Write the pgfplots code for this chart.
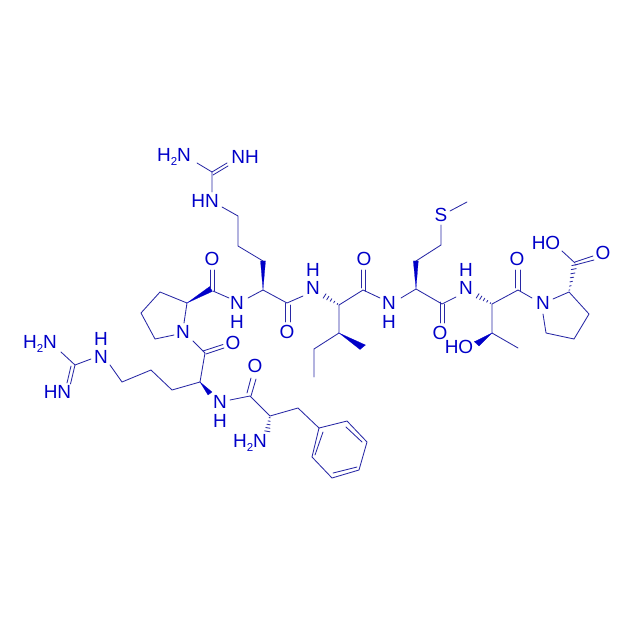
\documentclass[border=0pt]{standalone}
\usepackage{pgfplots}
\pgfplotsset{compat=1.18}
\usepackage{fontspec}
\setmainfont{Liberation Sans}
\definecolor{bondc}{RGB}{40,40,165}
\definecolor{textc}{RGB}{0,0,200}
\newcommand\B[1]{\addplot[bondc,line width=0.85pt,line cap=round,line join=round,no markers] coordinates {#1};}
\newcommand\W[1]{\addplot[fill=textc,draw=textc,line width=0.2pt,no markers] coordinates {#1} --cycle;}
\newcommand\T[3]{\node[text=textc,inner sep=0pt,font=\fontsize{19}{19}\selectfont] at (axis cs:#1,#2) {#3};}
\newcommand\su{\raisebox{-3.5pt}{\fontsize{11.5}{11.5}\selectfont 2}}
\begin{document}
\begin{tikzpicture}
\path[use as bounding box] (0,0) rectangle (639pt,639pt);
\begin{axis}[at={(0,0)},anchor=south west,scale only axis,width=639pt,height=639pt,xmin=0,xmax=639,ymin=0,ymax=639,y dir=reverse,hide axis,clip=false]
% Arg 1 guanidine and chain
\B{(61,352)(75,365)(91,359)}
\B{(75,365)(70.5,384)}
\B{(71,366)(67,383)}
\B{(110,365)(122,382)(151,370)(172,390)(200,382)}
\W{(200,382)(208,395)(212,392)}
\B{(200,382)(205,353)(193,341)}
\B{(203,351)(223,344.5)}
\B{(206,354)(224,348)}
% Pro 1
\B{(174,335)(155,339)(141,313)(160,292)(187,303)(184,323)}
\W{(187,303)(209.6,286.6)(212.4,291.4)}
\B{(210,288)(210,270)}
\B{(214.5,291)(214.5,270)}
\B{(213,291)(229,298)}
% Arg 2
\B{(248,298)(263,290)(287,303)(303,296)}
\W{(263,290)(260.5,261)(265.5,261)}
\B{(263,261)(238,246)(238,216)(222,207)}
\B{(212,192)(212,172)(197,163)}
\B{(212,172)(227,163)}
\B{(213,175)(228,166)}
\B{(285,303)(285,322)}
\B{(290,305)(290,322)}
% hash Arg N - Ile CA
\B{(337.1,304.5)(337.7,303.5)}
\B{(333.6,302.9)(334.8,301.1)}
\B{(330.15,301.35)(331.85,298.65)}
\B{(326.7,299.8)(328.9,296.2)}
\B{(323.2,298.2)(326,293.8)}
% Ile
\B{(339,305)(339,333)(314,349)(314,377)}
\W{(339,333)(360,349.5)(365.5,345)}
\B{(339,305)(363,290)(380,298)}
\B{(361,288)(361,270)}
\B{(365.7,291)(365.7,270)}
% Met
\B{(401,298)(416,289)(442,304)(456,297)}
\W{(416,289)(413.3,261)(418.3,261)}
\B{(416,261)(441,245)(441,225)}
\B{(450,211)(467,202)}
\B{(440,302)(440,323)}
\B{(444.3,304)(444.3,323)}
% hash Met N - Thr CA
\B{(490.1,303.6)(490.7,302.6)}
\B{(486.6,302.2)(487.8,300.4)}
\B{(483.15,300.85)(484.85,298.15)}
\B{(479.7,299.5)(481.9,295.9)}
\B{(476.2,298.1)(479,293.7)}
% Thr
\B{(492,304)(492,333)(518,348)}
\W{(492,333)(474.3,341.7)(479,346)}
\B{(492,304)(518,290)(532,298)}
\B{(515,288)(515,270)}
\B{(520,291)(520,270)}
% Pro 2
\B{(553,299)(569,292)(589,314)(574,339)(546,333)(543,314)}
% hash to COOH
\B{(568.9,290.1)(569.9,289.9)}
\B{(569.4,286.1)(571.2,285.7)}
\B{(569.9,281.9)(572.5,281.3)}
\B{(570.3,277.8)(573.7,277.2)}
\B{(570.7,273.8)(574.9,273)}
\B{(571.2,269.6)(576.2,268.6)}
\B{(571.8,265.6)(577.4,264.4)}
\B{(575,263)(562,251)}
\B{(575,262)(593,256)}
\B{(575,265)(594,260)}
% Phe
\B{(230,400)(250,396)(270,416)(298,408)(319,428)(347,421)(367,442)(359,470)(332,478)(312,457)(319,428)}
\B{(247,393)(251,378)}
\B{(251,396)(256,379)}
\B{(346,427)(362,442)}
\B{(357,467)(333,473)}
\B{(323,432)(315,455)}
% hash to H2N
\B{(269.1,417.6)(270.3,417.8)}
\B{(268,420.9)(270.2,421.3)}
\B{(266.9,424.2)(270.1,424.8)}
\B{(265.8,427.55)(270,428.25)}
\B{(264.7,430.85)(269.9,431.75)}
% labels
\T{40}{344}{H\su N}
\T{57.5}{392}{HN}
\T{101}{357}{N}
\T{101}{339}{H}
\T{183}{332}{N}
\T{233}{343}{O}
\T{212}{259}{O}
\T{237}{303}{N}
\T{237}{322}{H}
\T{174}{157}{H\su N}
\T{245}{157}{NH}
\T{205}{201}{HN}
\T{287}{332}{O}
\T{313}{288}{N}
\T{313}{269.5}{H}
\T{364}{259}{O}
\T{389}{303}{N}
\T{389}{322}{H}
\T{441}{215}{S}
\T{440}{333}{O}
\T{466}{288}{N}
\T{466}{269.5}{H}
\T{459}{347}{HO}
\T{517}{259}{O}
\T{543}{303}{N}
\T{546}{243}{HO}
\T{603}{253}{O}
\T{220}{402}{N}
\T{220}{420.5}{H}
\T{255}{366}{O}
\T{250}{443}{H\su N}
\end{axis}
\end{tikzpicture}
\end{document}
